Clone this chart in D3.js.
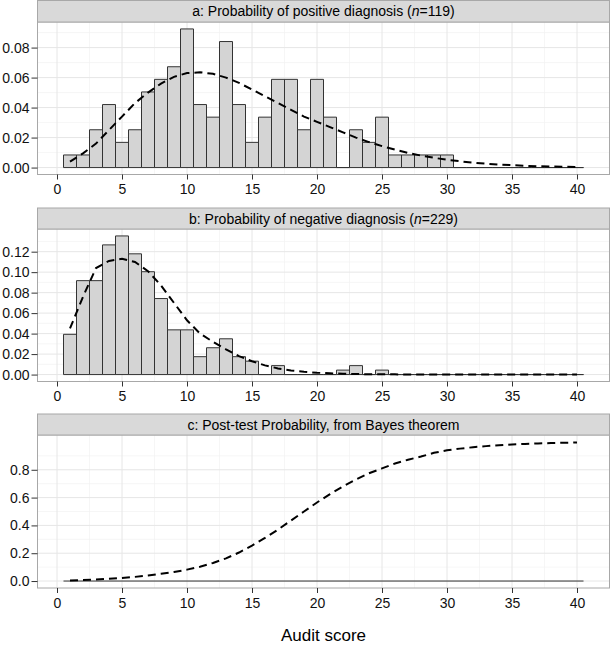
<!DOCTYPE html>
<html><head><meta charset="utf-8">
<script src="https://cdn.jsdelivr.net/npm/d3@7"></script>
<style>
body{margin:0;background:#fff}
svg{display:block}
text{font-family:"Liberation Sans",Arial,Helvetica,sans-serif}
</style>
</head><body>
<svg id="chart" width="610" height="649"></svg>
<script>
// ---------------- data ----------------
const scores = [1,2,3,4,5,6,7,8,9,10,11,12,13,14,15,16,17,18,19,20,
                21,22,23,24,25,26,27,28,29,30,31,32,33,34,35,36,37,38,39,40];
const xTicks = [0,5,10,15,20,25,30,35,40];

// panel a: counts of positive diagnoses by score (n = 119)
const posN = 119;
const posCounts = [1,1,3,5,2,3,6,7,8,11,5,4,10,5,2,4,7,7,3,7,
                   4,0,3,2,4,1,1,1,1,1,0,0,0,0,0,0,0,0,0,0];
const posFit = [0.0040,0.0095,0.0160,0.0250,0.0340,0.0430,0.0500,0.0560,0.0605,0.0630,
                0.0635,0.0625,0.0600,0.0565,0.0520,0.0475,0.0430,0.0385,0.0340,0.0305,
                0.0270,0.0235,0.0200,0.0170,0.0143,0.0120,0.0098,0.0080,0.0065,0.0052,
                0.0042,0.0033,0.0026,0.0020,0.0016,0.0012,0.0009,0.0007,0.0005,0.0004];
const posYTicks = [0,0.02,0.04,0.06,0.08];

// panel b: counts of negative diagnoses by score (n = 229)
const negN = 229;
const negCounts = [9,21,21,29,31,27,23,17,10,10,4,6,8,4,3,0,2,0,0,0,
                   0,1,2,0,1,0,0,0,0,0,0,0,0,0,0,0,0,0,0,0];
const negFit = [0.0450,0.0760,0.1040,0.1110,0.1130,0.1100,0.1010,0.0870,0.0700,0.0530,
                0.0400,0.0320,0.0245,0.0180,0.0130,0.0090,0.0060,0.0040,0.0027,0.0018,
                0.0012,0.0008,0.0005,0.0003,0.0002,0.0002,0.0001,0.0001,0.0001,0.0001,
                0,0,0,0,0,0,0,0,0,0];
const negYTicks = [0,0.02,0.04,0.06,0.08,0.10,0.12];

// panel c: post-test probability
const postProb = [0.004,0.007,0.011,0.016,0.022,0.030,0.040,0.052,0.065,0.082,
                  0.103,0.130,0.163,0.205,0.255,0.310,0.370,0.435,0.500,0.565,
                  0.625,0.680,0.730,0.775,0.810,0.845,0.872,0.895,0.922,0.940,
                  0.952,0.962,0.970,0.977,0.982,0.986,0.989,0.992,0.994,0.996];
const postYTicks = [0,0.2,0.4,0.6,0.8];

// ---------------- layout ----------------
const svg = d3.select("#chart");
const W = 610;
const left = 37.5, right = 609.5;
const x = d3.scaleLinear().domain([-1.5, 42.5]).range([left, right]);
const xMinor = [2.5,7.5,12.5,17.5,22.5,27.5,32.5,37.5];

const panels = [
  {title:["a: Probability of positive diagnosis (", "n", "=119)"], stripTop:0.5, top:22, bottom:174.5,
   bars: posCounts.map(c => c / posN), fit: posFit, yTicks: posYTicks, fmt: d3.format(".2f")},
  {title:["b: Probability of negative diagnosis (", "n", "=229)"], stripTop:208, top:229, bottom:381.5,
   bars: negCounts.map(c => c / negN), fit: negFit, yTicks: negYTicks, fmt: d3.format(".2f")},
  {title:["c: Post-test Probability, from Bayes theorem"], stripTop:414, top:435, bottom:588,
   bars: null, fit: postProb, yTicks: postYTicks, fmt: d3.format(".1f")}
];

const fontSize = 14;

panels.forEach(p => {
  const vals = p.bars ? p.bars.concat(p.fit) : p.fit.concat([1]);
  const ymax = d3.max(vals);
  const y = d3.scaleLinear().domain([-0.05*ymax, 1.05*ymax]).range([p.bottom, p.top]);
  const g = svg.append("g");
  const step = p.yTicks[1] - p.yTicks[0];
  const yMinor = p.yTicks.map(t => t + step/2).filter(t => y(t) > p.top);

  g.append("rect").attr("x", left).attr("y", p.top).attr("width", right-left)
    .attr("height", p.bottom - p.top).attr("fill", "#fff");

  // minor grid
  g.selectAll(".mx").data(xMinor).join("line")
    .attr("x1", d => x(d)).attr("x2", d => x(d)).attr("y1", p.top).attr("y2", p.bottom)
    .attr("stroke", "#f2f2f2").attr("stroke-width", 0.7);
  g.selectAll(".my").data(yMinor).join("line")
    .attr("x1", left).attr("x2", right).attr("y1", d => y(d)).attr("y2", d => y(d))
    .attr("stroke", "#f2f2f2").attr("stroke-width", 0.7);
  // major grid
  g.selectAll(".Mx").data(xTicks).join("line")
    .attr("x1", d => x(d)).attr("x2", d => x(d)).attr("y1", p.top).attr("y2", p.bottom)
    .attr("stroke", "#e6e6e6").attr("stroke-width", 1);
  g.selectAll(".My").data(p.yTicks).join("line")
    .attr("x1", left).attr("x2", right).attr("y1", d => y(d)).attr("y2", d => y(d))
    .attr("stroke", "#e6e6e6").attr("stroke-width", 1);

  // bars
  if (p.bars) {
    g.selectAll(".bar").data(scores).join("path")
      .attr("d", (s, i) => {
        const x0 = x(s - 0.5), x1 = x(s + 0.5), y0 = y(0), y1 = y(p.bars[i]);
        return `M${x0},${y0}V${y1}H${x1}V${y0}Z`;
      })
      .attr("fill", "#d4d4d4").attr("stroke", "#333").attr("stroke-width", 1);
  } else {
    g.append("line").attr("x1", x(0.5)).attr("x2", x(40.5))
      .attr("y1", y(0)).attr("y2", y(0)).attr("stroke", "#333").attr("stroke-width", 1);
  }

  // fitted / posterior curve
  const line = d3.line().x((d, i) => x(scores[i])).y(d => y(d));
  g.append("path").datum(p.fit).attr("d", line)
    .attr("fill", "none").attr("stroke", "#000").attr("stroke-width", 2)
    .attr("stroke-dasharray", "8,5");

  // panel border
  g.append("rect").attr("x", left).attr("y", p.top).attr("width", right-left)
    .attr("height", p.bottom - p.top).attr("fill", "none").attr("stroke", "#a8a8a8").attr("stroke-width", 1);

  // strip
  g.append("rect").attr("x", left).attr("y", p.stripTop).attr("width", right-left)
    .attr("height", p.top - p.stripTop).attr("fill", "#d9d9d9").attr("stroke", "#a8a8a8").attr("stroke-width", 1);
  const st = g.append("text").attr("x", (left+right)/2).attr("y", (p.stripTop + p.top)/2 + 5)
    .attr("text-anchor", "middle").attr("font-size", fontSize).attr("fill", "#000");
  p.title.forEach((t, i) => {
    st.append("tspan").text(t).attr("font-style", (p.title.length > 1 && i === 1) ? "italic" : "normal");
  });

  // axes
  const ax = g.append("g").attr("transform", `translate(${left},0)`)
    .call(d3.axisLeft(y).tickValues(p.yTicks).tickFormat(p.fmt).tickSize(6).tickPadding(2));
  const bx = g.append("g").attr("transform", `translate(0,${p.bottom})`)
    .call(d3.axisBottom(x).tickValues(xTicks).tickFormat(d3.format("d")).tickSize(5).tickPadding(5));
  [ax, bx].forEach(a => {
    a.select(".domain").remove();
    a.selectAll(".tick line").attr("stroke", "#333");
    a.selectAll(".tick text").attr("font-size", fontSize).attr("fill", "#111")
      .attr("font-family", '"Liberation Sans",Arial,Helvetica,sans-serif');
    a.attr("font-family", null).attr("font-size", null);
  });
});

svg.append("text").attr("x", (left+right)/2).attr("y", 641).attr("text-anchor", "middle")
  .attr("font-size", 17).attr("fill", "#000").text("Audit score");
</script>
</body></html>
